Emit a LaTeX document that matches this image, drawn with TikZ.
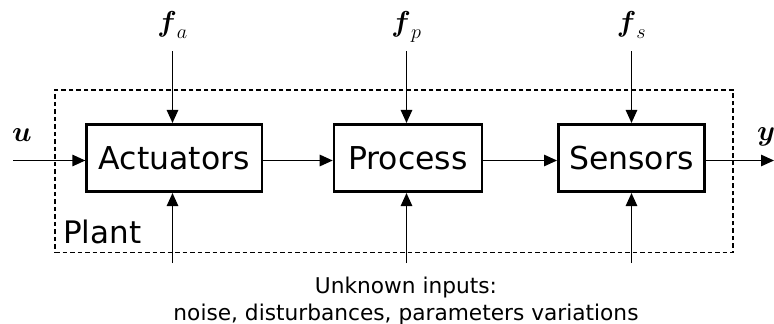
\RequirePackage{fix-cm}
\documentclass[tikz,border=0pt]{standalone}
\usepackage{amsmath}
\usepackage{fontspec}
\newfontfamily\dvs{DejaVu Sans}
\usetikzlibrary{arrows.meta}
\newcommand{\mlbl}[1]{\scalebox{1.2}{$#1$}}
\begin{document}
\begin{tikzpicture}[x=1pt,y=-1pt,
  blk/.style={draw, line width=2.6pt, inner sep=0pt, minimum height=67.5pt,
              font=\dvs\fontsize{31.5}{36}\selectfont},
  plantbox/.style={draw, line width=1.2pt, dash pattern=on 4.5pt off 3pt},
  sig/.style={line width=1.3pt, -{Triangle[length=13pt,width=11.5pt]}},
  lbl/.style={inner sep=0pt, anchor=base, font=\fontsize{24}{30}\selectfont},
  txt/.style={inner sep=0pt, font=\dvs\fontsize{21.7}{27}\selectfont}
]
\useasboundingbox (0,0) rectangle (774,324);
% plant frame
\node[plantbox, minimum width=678pt, minimum height=162.3pt, inner sep=0pt] (plant) at (394,171.2) {};
\node[txt, anchor=base west, font=\dvs\fontsize{31}{36}\selectfont] (plantlbl) at (63,243) {Plant};
% blocks
\node[blk, minimum width=175.3pt] (act) at (174.3,158) {Actuators};
\node[blk, minimum width=148pt] (proc) at (408,158) {Process};
\node[blk, minimum width=146pt] (sens) at (631.3,158) {Sensors};
% signal labels
\node[lbl, anchor=base west] (ulbl) at (12,141.7) {\mlbl{\boldsymbol{u}}};
\node[lbl, anchor=base west] (ylbl) at (757,140) {\mlbl{\boldsymbol{y}}};
\node[lbl] (falbl) at (172.5,31.7) {\mlbl{\boldsymbol{f}_a}};
\node[lbl] (fplbl) at (406.5,31.7) {\mlbl{\boldsymbol{f}_p}};
\node[lbl] (fslbl) at (631.5,31.7) {\mlbl{\boldsymbol{f}_s}};
% coordinates
\coordinate (ay) at (0,160.5);
\coordinate (uin) at (13,160.5);
\coordinate (yout) at (774,160.5);
\coordinate (fatop) at (172.5,51);
\coordinate (fptop) at (406.5,51);
\coordinate (fstop) at (631.5,51);
\coordinate (dabot) at (172.5,263);
\coordinate (dpbot) at (406.5,263);
\coordinate (dsbot) at (631.5,263);
% main chain
\draw[sig] (uin) -- (uin -| act.west);
\draw[sig] (act.east |- ay) -- (proc.west |- ay);
\draw[sig] (proc.east |- ay) -- (sens.west |- ay);
\draw[sig] (sens.east |- ay) -- (yout);
% faults
\draw[sig] (fatop) -- (fatop |- act.north);
\draw[sig] (fptop) -- (fptop |- proc.north);
\draw[sig] (fstop) -- (fstop |- sens.north);
% unknown inputs
\draw[sig] (dabot) -- (dabot |- act.south);
\draw[sig] (dpbot) -- (dpbot |- proc.south);
\draw[sig] (dsbot) -- (dsbot |- sens.south);
\node[txt, anchor=base] (unk1) at (406,293) {Unknown inputs:};
\node[txt, anchor=base] (unk2) at (406,320) {noise, disturbances, parameters variations};
\end{tikzpicture}
\end{document}
